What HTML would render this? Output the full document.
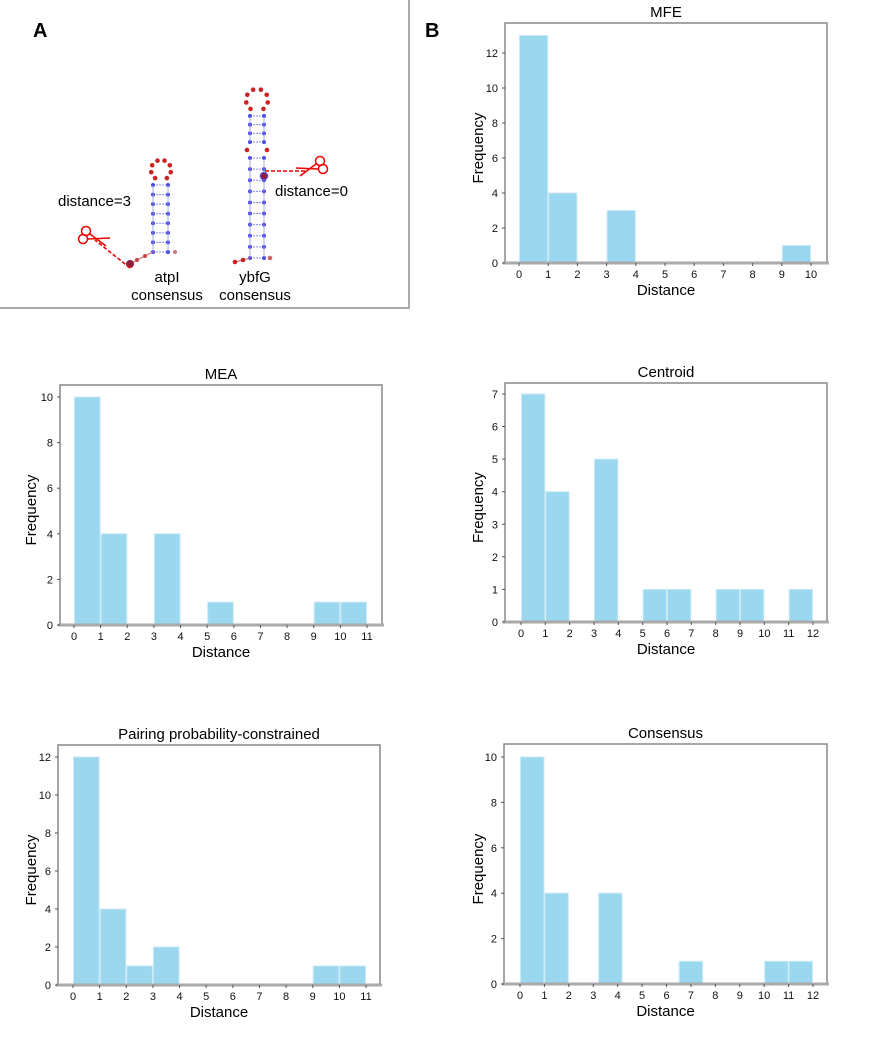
<!DOCTYPE html>
<html><head><meta charset="utf-8">
<style>
html,body{margin:0;padding:0;background:#fff;}
body{width:878px;height:1042px;overflow:hidden;font-family:"Liberation Sans",sans-serif;}
svg text{font-family:"Liberation Sans",sans-serif;}
</style></head>
<body>
<svg id="fig" width="878" height="1042" viewBox="0 0 878 1042">
  <g id="panelA">
    <line x1="409" y1="0" x2="409" y2="308" stroke="#aaa" stroke-width="2"/>
    <line x1="0" y1="308" x2="410" y2="308" stroke="#aaa" stroke-width="2"/>
    <text x="33" y="37" font-size="20" font-weight="bold">A</text>
    <text x="58" y="206" font-size="15">distance=3</text>
    <text x="275" y="196" font-size="15">distance=0</text>
    <text x="167" y="282" font-size="15" text-anchor="middle">atpI</text>
    <text x="167" y="300" font-size="15" text-anchor="middle">consensus</text>
    <text x="255" y="282" font-size="15" text-anchor="middle">ybfG</text>
    <text x="255" y="300" font-size="15" text-anchor="middle">consensus</text>
    <g id="rna"></g>
  </g>
  <text x="425" y="37" font-size="20" font-weight="bold">B</text>
  <g id="charts"></g>
</svg>
<script>
// ---------- chart data ----------
const mfeBinStarts = [0, 1, 3, 9];
const mfeCounts = [13, 4, 3, 1];
const mfeXTicks = ["0","1","2","3","4","5","6","7","8","9","10"];
const mfeYTicks = [0, 2, 4, 6, 8, 10, 12];

const meaBinStarts = [0, 1, 3, 5, 9, 10];
const meaCounts = [10, 4, 4, 1, 1, 1];
const meaXTicks = ["0","1","2","3","4","5","6","7","8","9","10","11"];
const meaYTicks = [0, 2, 4, 6, 8, 10];

const centroidBinStarts = [0, 1, 3, 5, 6, 8, 9, 11];
const centroidCounts = [7, 4, 5, 1, 1, 1, 1, 1];
const centroidXTicks = ["0","1","2","3","4","5","6","7","8","9","10","11","12"];
const centroidYTicks = [0, 1, 2, 3, 4, 5, 6, 7];

const ppcBinStarts = [0, 1, 2, 3, 9, 10];
const ppcCounts = [12, 4, 1, 2, 1, 1];
const ppcXTicks = ["0","1","2","3","4","5","6","7","8","9","10","11"];
const ppcYTicks = [0, 2, 4, 6, 8, 10, 12];

const consBinStarts = [0, 1, 3.2, 6.5, 10, 11];
const consCounts = [10, 4, 4, 1, 1, 1];
const consXTicks = ["0","1","2","3","4","5","6","7","8","9","10","11","12"];
const consYTicks = [0, 2, 4, 6, 8, 10];

const NS = "http://www.w3.org/2000/svg";
function mk(tag, attrs, parent){
  const e = document.createElementNS(NS, tag);
  for (const k in attrs) e.setAttribute(k, attrs[k]);
  parent.appendChild(e);
  return e;
}

function drawChart(cfg, starts, counts, xt, yt){
  const g = mk("g", {}, document.getElementById("charts"));
  
  
  const xs = v => cfg.x0 + (v) * (cfg.x1 - cfg.x0) / (xt.length - 1);
  const yMax = yt[yt.length - 1];
  const ys = v => cfg.y0 - v * (cfg.y0 - cfg.yTop) / yMax;
  const box = mk("rect", {x: cfg.L, y: cfg.T, width: cfg.R - cfg.L, height: cfg.B - cfg.T, fill: "none", stroke: "#888", "stroke-width": 1.5}, g);
  
  
  starts.forEach((s, i) => {
    const x = xs(s), w = xs(s + 1) - xs(s), y = ys(counts[i]);
    const r = mk("rect", {x: x + 0.5, y: y, width: w - 1, height: cfg.y0 - y, fill: "#9bd7ee", stroke: "#c8eaf6", "stroke-width": 1}, g);
    
    
  });
  const ax = mk("line", {x1: cfg.L - 2, y1: cfg.B, x2: cfg.R + 2, y2: cfg.B, stroke: "#aaa", "stroke-width": 3}, g);
  
  
  xt.forEach((t, i) => {
    const x = xs(i);
    mk("line", {x1: x, y1: cfg.B, x2: x, y2: cfg.B + 3, stroke: "#555", "stroke-width": 1}, g);
    const tx = mk("text", {x: x, y: cfg.B + 15, "font-size": 11, "text-anchor": "middle", fill: "#111"}, g);
    tx.textContent = t;
    
    
  });
  yt.forEach(v => {
    const y = ys(v);
    mk("line", {x1: cfg.L - 3, y1: y, x2: cfg.L, y2: y, stroke: "#555", "stroke-width": 1}, g);
    const tx = mk("text", {x: cfg.L - 7, y: y + 4, "font-size": 11, "text-anchor": "end", fill: "#111"}, g);
    tx.textContent = v;
    
    
  });
  const title = mk("text", {x: (cfg.L + cfg.R) / 2, y: cfg.T - 6, "font-size": 15, "text-anchor": "middle"}, g);
  title.textContent = cfg.title;
  
  
  const xl = mk("text", {x: (cfg.L + cfg.R) / 2, y: cfg.B + 32, "font-size": 15, "text-anchor": "middle"}, g);
  xl.textContent = "Distance";
  
  
  const cy = (cfg.T + cfg.B) / 2 + 5;
  const yl = mk("text", {x: cfg.fx, y: cy, "font-size": 15, "text-anchor": "middle", transform: `rotate(-90 ${cfg.fx} ${cy})`}, g);
  yl.textContent = "Frequency";
  
  
}

drawChart({name: "mfe-chart", title: "MFE", L: 505, R: 827, T: 23, B: 263, x0: 519, x1: 811, y0: 263, yTop: 53, fx: 483},
  mfeBinStarts, mfeCounts, mfeXTicks, mfeYTicks);
drawChart({name: "mea-chart", title: "MEA", L: 60, R: 382, T: 385, B: 625, x0: 74, x1: 367, y0: 625, yTop: 397, fx: 36},
  meaBinStarts, meaCounts, meaXTicks, meaYTicks);
drawChart({name: "centroid-chart", title: "Centroid", L: 505, R: 827, T: 383, B: 622, x0: 521, x1: 813, y0: 622, yTop: 394, fx: 483},
  centroidBinStarts, centroidCounts, centroidXTicks, centroidYTicks);
drawChart({name: "ppc-chart", title: "Pairing probability-constrained", L: 58, R: 380, T: 745, B: 985, x0: 73, x1: 366, y0: 985, yTop: 757, fx: 36},
  ppcBinStarts, ppcCounts, ppcXTicks, ppcYTicks);
drawChart({name: "consensus-chart", title: "Consensus", L: 504, R: 827, T: 744, B: 984, x0: 520, x1: 813, y0: 984, yTop: 757, fx: 483},
  consBinStarts, consCounts, consXTicks, consYTicks);

// ---------- RNA structure drawings (illustration) ----------
(function(){
  const g = document.getElementById("rna");
  function stem(xl, xr, yTop, yBot, n){
    for (let i = 0; i < n; i++){
      const y = yTop + i * (yBot - yTop) / (n - 1);
      mk("line", {x1: xl, y1: y, x2: xr, y2: y, stroke: "#88f", "stroke-width": 1, "stroke-dasharray": "2,1"}, g);
      mk("circle", {cx: xl, cy: y, r: 2, fill: "#44e"}, g);
      mk("circle", {cx: xr, cy: y, r: 2, fill: "#44e"}, g);
    }
    mk("line", {x1: xl, y1: yTop, x2: xl, y2: yBot, stroke: "#99c", "stroke-width": 0.8}, g);
    mk("line", {x1: xr, y1: yTop, x2: xr, y2: yBot, stroke: "#99c", "stroke-width": 0.8}, g);
  }
  function loop(cx, cy, r, n){
    for (let i = 0; i < n; i++){
      const a = -0.3 * Math.PI + i * (1.6 * Math.PI) / (n - 1);
      mk("circle", {cx: cx + r * Math.cos(a), cy: cy - r * Math.sin(a), r: 2.3, fill: "#c22"}, g);
    }
  }
  function scissors(x, y, flip){
    const s = flip ? -1 : 1;
    mk("circle", {cx: x - 4 * s, cy: y - 5, r: 4.5, fill: "none", stroke: "#e00", "stroke-width": 1.5}, g);
    mk("circle", {cx: x - 7 * s, cy: y + 3, r: 4.5, fill: "none", stroke: "#e00", "stroke-width": 1.5}, g);
    mk("line", {x1: x, y1: y - 2, x2: x + 16 * s, y2: y + 10, stroke: "#e00", "stroke-width": 1.5}, g);
    mk("line", {x1: x - 2 * s, y1: y + 3, x2: x + 20 * s, y2: y + 2, stroke: "#e00", "stroke-width": 1.5}, g);
  }
  // atpI
  stem(153, 168, 185, 252, 8);
  loop(161, 170, 10, 8);
  mk("polyline", {points: "153,252 145,256 137,260 130,264", fill: "none", stroke: "#c66", "stroke-width": 1}, g);
  mk("circle", {cx: 145, cy: 256, r: 2, fill: "#c44"}, g);
  mk("circle", {cx: 137, cy: 260, r: 2, fill: "#c44"}, g);
  mk("circle", {cx: 130, cy: 264, r: 4, fill: "#902040"}, g);
  mk("circle", {cx: 175, cy: 252, r: 2, fill: "#c77"}, g);
  mk("line", {x1: 130, y1: 268, x2: 95, y2: 240, stroke: "#e00", "stroke-width": 1.5, "stroke-dasharray": "4,2"}, g);
  scissors(90, 236, false);
  // ybfG
  stem(250, 264, 116, 142, 4);
  stem(250, 264, 158, 258, 10);
  loop(257, 100, 11, 8);
  mk("circle", {cx: 247, cy: 150, r: 2.3, fill: "#c22"}, g);
  mk("circle", {cx: 267, cy: 150, r: 2.3, fill: "#c22"}, g);
  mk("polyline", {points: "250,258 243,260 235,262", fill: "none", stroke: "#c66", "stroke-width": 1}, g);
  mk("circle", {cx: 243, cy: 260, r: 2.3, fill: "#c22"}, g);
  mk("circle", {cx: 235, cy: 262, r: 2.3, fill: "#c22"}, g);
  mk("circle", {cx: 270, cy: 258, r: 2.3, fill: "#c66"}, g);
  mk("circle", {cx: 264, cy: 176, r: 3.8, fill: "#902040", stroke: "#55f", "stroke-width": 1}, g);
  mk("line", {x1: 265, y1: 171, x2: 305, y2: 171, stroke: "#e00", "stroke-width": 1.5, "stroke-dasharray": "4,2"}, g);
  scissors(316, 166, true);
})();
</script>
</body></html>
